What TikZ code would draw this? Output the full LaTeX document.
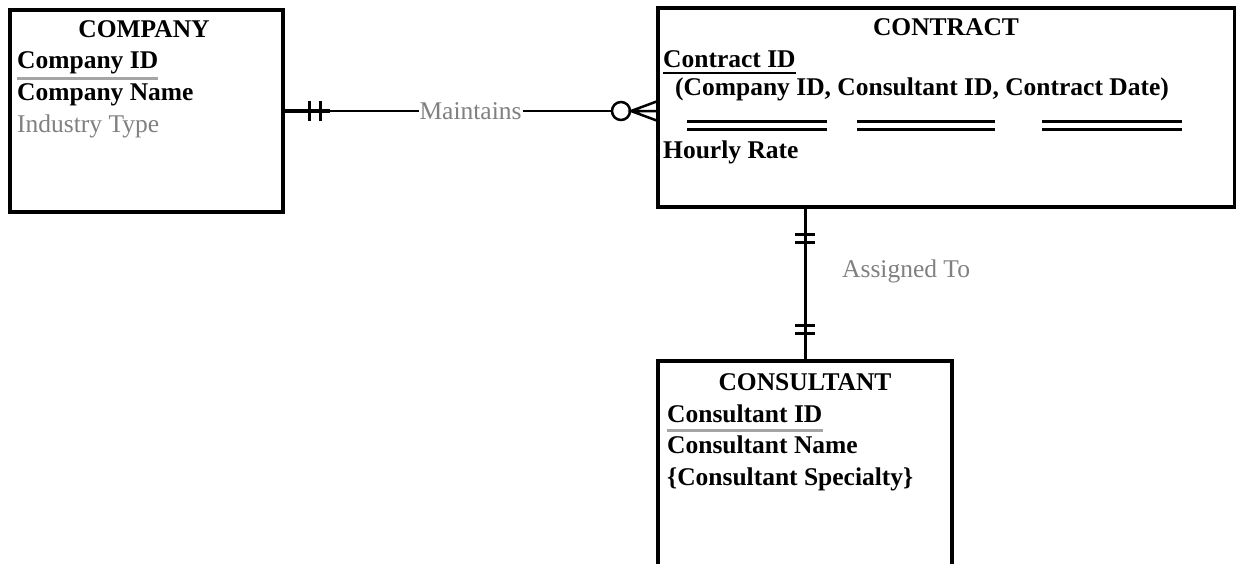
\documentclass[tikz,border=0pt]{standalone}
\usepackage{fontspec}
\setmainfont{Liberation Serif}
\usetikzlibrary{calc}
\definecolor{relgray}{RGB}{128,128,128}
\definecolor{keygray}{RGB}{165,165,165}
\newcommand\erfont{\fontsize{25.5}{30}\selectfont}
\tikzset{
	entity/.style={draw, line width=3.5pt, rectangle, anchor=north west, inner sep=0pt, outer sep=0pt},
	title/.style={anchor=base, inner sep=0pt, font=\erfont\bfseries},
	attr/.style={anchor=base west, inner sep=0pt, font=\erfont\bfseries},
	rel/.style={line width=2.5pt},
	rlabel/.style={inner sep=1pt, fill=white, text=relgray, font=\erfont}
}
\begin{document}
\begin{tikzpicture}[x=1pt, y=-1pt, line join=miter]
	\clip (0,0) rectangle (1236,563);
	% entities
	\node[entity, minimum width=273pt, minimum height=202pt] (company) at (10,10) {};
	\node[entity, minimum width=577pt, minimum height=199pt] (contract) at (658,8) {};
	\node[entity, minimum width=294pt, minimum height=240pt] (consultant) at (658,361) {};
	
	\node[title] (companyT) at (144,37) {COMPANY};
	\node[attr] (companyId) at (17,68) {Company ID};
	\draw[keygray, line width=3pt] ($(companyId.base west)+(0,10)$)--($(companyId.base east)+(0,10)$);
	\node[attr] (companyName) at (17,100) {Company Name};
	\node[attr, font=\erfont, text=relgray] (industry) at (17,132) {Industry Type};
	
	\node[title] (contractT) at (946,35) {CONTRACT};
	\node[attr] (contractId) at (663,67) {Contract ID};
	\draw[line width=2pt] ($(contractId.base west)+(0,6)$)--($(contractId.base east)+(0,6)$);
	\node[attr] (contractKey) at (675,95) {(Company ID, Consultant ID, Contract Date)};
	\foreach \a/\b in {687/827,857/995,1042/1182}
	\draw[line width=3pt] (\a,121)--(\b,121) (\a,129)--(\b,129);
	\node[attr] (rate) at (663,158) {Hourly Rate};
	
	\node[title] (consultantT) at (805,390) {CONSULTANT};
	\node[attr] (consultantId) at (667,422) {Consultant ID};
	\draw[keygray, line width=3pt] ($(consultantId.base west)+(0,8)$)--($(consultantId.base east)+(0,8)$);
	\node[attr] (consultantName) at (667,453) {Consultant Name};
	\node[attr] (specialty) at (667,485) {\{Consultant Specialty\}};
	
	% Maintains
	\coordinate (cm) at (company.east -| contract.west);
	\draw[line width=2pt] (company.east)--node[rlabel] {Maintains} (cm);
	\draw[line width=3.5pt] (company.east)--+(47,0);
	\draw[line width=3pt] ($(company.east)+(26,-10)$)--+(0,20) ($(company.east)+(37,-10)$)--+(0,20);
	\draw[rel, fill=white] ($(cm)+(-37,0)$) circle (9);
	\draw[rel] ($(cm)+(0,-10)$)--($(cm)+(-27,0)$)--($(cm)+(0,10)$) ($(cm)+(-27,0)$)--(cm);
	
	% Assigned To
	\coordinate (ca) at (consultant.north |- contract.south);
	\draw[line width=3pt] (ca)--(consultant.north);
	\draw[line width=3pt] ($(ca)+(-10,27)$)--+(20,0) ($(ca)+(-10,35)$)--+(20,0);
	\draw[line width=3pt] ($(consultant.north)+(-10,-36)$)--+(20,0) ($(consultant.north)+(-10,-28)$)--+(20,0);
	\node[rlabel, fill=none, inner sep=0pt, anchor=base west] (assigned) at ($(consultant.north)+(37,-84)$) {Assigned To};
\end{tikzpicture}
\end{document}
